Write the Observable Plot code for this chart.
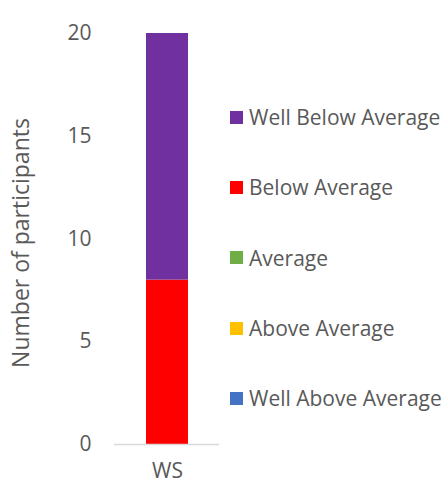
<!DOCTYPE html>
<html>
<head>
<meta charset="utf-8">
<script src="https://cdn.jsdelivr.net/npm/d3@7"></script>
<script src="https://cdn.jsdelivr.net/npm/@observablehq/plot@0.6"></script>
<style>
  html, body { margin: 0; padding: 0; background: #fff; }
  #wrap { position: relative; width: 447px; height: 484px; font-family: "Open Sans", sans-serif; }
  #legend { position: absolute; left: 230px; top: 105px; }
  .item { display: flex; align-items: center; height: 70.3px; margin-top: -23px; margin-bottom: 23px; color: #595959; font-size: 21px; white-space: nowrap; }
  .sw { width: 13px; height: 13px; margin-right: 6px; flex: none; }
</style>
</head>
<body>
<div id="wrap"></div>
<script>
const groups = ["WS"];
const series = ["Well Above Average", "Above Average", "Average", "Below Average", "Well Below Average"];
const values = [0, 0, 0, 8, 12];
const colors = ["#4472C4", "#FFC000", "#70AD47", "#FF0000", "#7030A0"];
const yTicks = [0, 5, 10, 15, 20];
const yTitle = "Number of participants";

const data = series.map((s, i) => ({group: groups[0], series: s, value: values[i]}));

const chart = Plot.plot({
  width: 447,
  height: 484,
  marginLeft: 114,
  marginRight: 228,
  marginTop: 33,
  marginBottom: 40,
  style: {fontFamily: "Open Sans, sans-serif", fontSize: "21px", color: "#595959", background: "#fff"},
  x: {domain: groups, paddingInner: 0.6, paddingOuter: 0.3},
  y: {domain: [0, 20]},
  color: {domain: series, range: colors},
  marks: [
    Plot.barY(data, Plot.stackY({x: "group", y: "value", fill: "series", order: series})),
    Plot.ruleY([0], {stroke: "#D9D9D9", strokeWidth: 1.5}),
    Plot.axisY(yTicks, {ticks: yTicks, tickSize: 0, tickPadding: 23, label: null, fill: "#595959", fontSize: 21}),
    Plot.text([yTitle], {frameAnchor: "left", textAnchor: "middle", lineAnchor: "middle", rotate: -90, dx: -93, dy: 4, fill: "#595959", fontSize: 23}),
    Plot.axisX({tickSize: 0, tickPadding: 19, label: null, fill: "#595959", fontSize: 21})
  ]
});

const wrap = document.getElementById("wrap");
wrap.appendChild(chart);
const legend = document.createElement("div");
legend.id = "legend";
series.slice().reverse().forEach((s) => {
  const i = series.indexOf(s);
  const it = document.createElement("div");
  it.className = "item";
  it.innerHTML = `<span class="sw" style="background:${colors[i]}"></span><span>${s}</span>`;
  legend.appendChild(it);
});
wrap.appendChild(legend);
</script>
</body>
</html>
